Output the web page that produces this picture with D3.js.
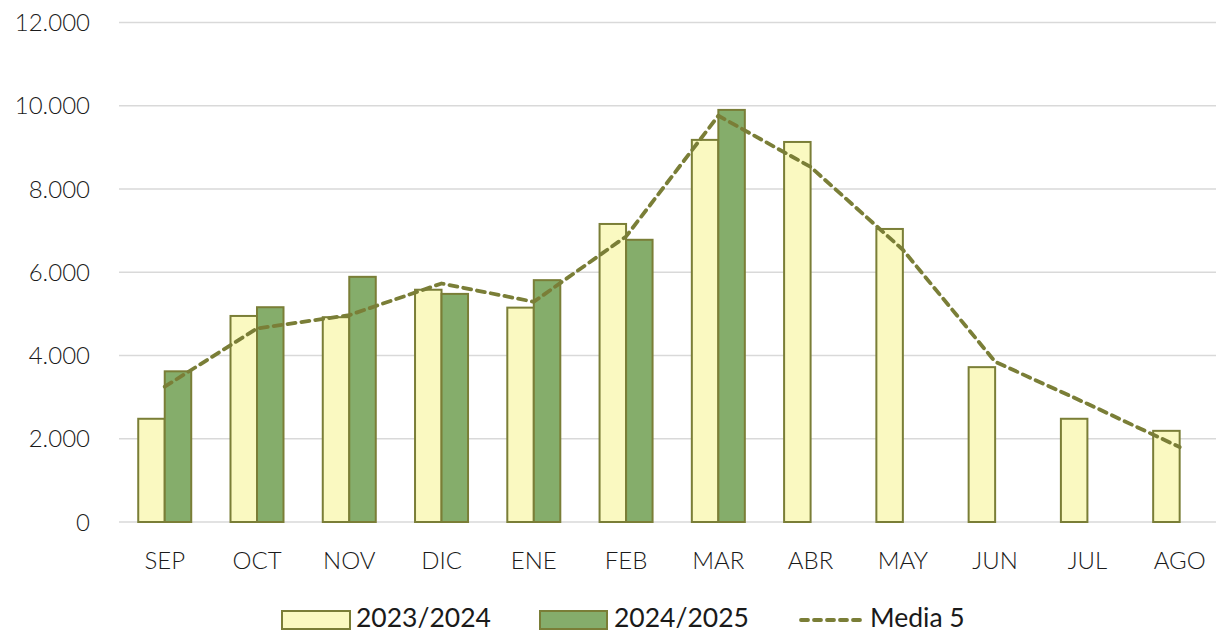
<!DOCTYPE html>
<html><head><meta charset="utf-8">
<script src="https://cdn.jsdelivr.net/npm/d3@7/dist/d3.min.js"></script>
<style>
html,body{margin:0;padding:0;background:#fff;}
svg text{font-family:Lato,"Open Sans",sans-serif;fill:#1a1a1a;}
</style></head>
<body><svg id="c" width="1216" height="634"></svg>
<script>
const categories = ["SEP","OCT","NOV","DIC","ENE","FEB","MAR","ABR","MAY","JUN","JUL","AGO"];
const s2023 = [2480,4950,4920,5580,5150,7160,9180,9130,7040,3720,2480,2190];
const s2024 = [3620,5160,5890,5480,5810,6780,9900,null,null,null,null,null];
const media5 = [3250,4650,4970,5730,5290,6860,9760,8530,6540,3850,2840,1800];
const yTicks = [0,2000,4000,6000,8000,10000,12000];
const seriesNames = ["2023/2024","2024/2025","Media 5"];

const svg = d3.select("#c");
const x = d3.scaleBand().domain(categories).range([118.6, 1225.8]).padding(0);
const y = d3.scaleLinear().domain([0,12000]).range([522, 22.5]);
const bw = 26.5;
const stroke = "#7A7E37";
const fillA = "#FAF9C1", fillB = "#85AD6B";
const fmt = d => d3.format(",")(d).replace(/,/g,".");

// gridlines
svg.append("g").selectAll("line").data(yTicks).join("line")
  .attr("x1",119).attr("x2",1216)
  .attr("y1",d=>y(d)).attr("y2",d=>y(d))
  .attr("stroke","#D9D9D9").attr("stroke-width",1.6);

// y labels
svg.append("g").selectAll("text").data(yTicks).join("text")
  .attr("x",90).attr("y",d=>y(d)+8.5).attr("text-anchor","end")
  .attr("font-size",24).attr("font-weight",300).text(fmt);

// x labels
svg.append("g").selectAll("text").data(categories).join("text")
  .attr("x",d=>x(d)+x.bandwidth()/2).attr("y",569).attr("text-anchor","middle")
  .attr("font-size",24).attr("font-weight",300).text(d=>d);

// bars
svg.append("g").selectAll("rect").data(categories).join("rect")
  .attr("x",d=>x(d)+x.bandwidth()/2-bw).attr("width",bw)
  .attr("y",(d,i)=>y(s2023[i])).attr("height",(d,i)=>y(0)-y(s2023[i]))
  .attr("fill",fillA).attr("stroke",stroke).attr("stroke-width",2);
svg.append("g").selectAll("rect").data(categories.filter((d,i)=>s2024[i]!=null)).join("rect")
  .attr("x",d=>x(d)+x.bandwidth()/2).attr("width",bw)
  .attr("y",d=>y(s2024[categories.indexOf(d)])).attr("height",d=>y(0)-y(s2024[categories.indexOf(d)]))
  .attr("fill",fillB).attr("stroke",stroke).attr("stroke-width",2);

// line
const line = d3.line().x((d,i)=>x(categories[i])+x.bandwidth()/2).y(d=>y(d));
svg.append("path").attr("d",line(media5)).attr("fill","none")
  .attr("stroke",stroke).attr("stroke-width",3.8)
  .attr("stroke-dasharray","8,6").attr("stroke-linecap","round").attr("stroke-linejoin","round");

// legend
const lg = svg.append("g");
lg.append("rect").attr("x",282).attr("y",611).attr("width",68).attr("height",18)
  .attr("fill",fillA).attr("stroke",stroke).attr("stroke-width",2);
lg.append("text").attr("x",356).attr("y",627).attr("font-size",26.5).text(seriesNames[0]);
lg.append("rect").attr("x",540).attr("y",611).attr("width",67).attr("height",18)
  .attr("fill",fillB).attr("stroke",stroke).attr("stroke-width",2);
lg.append("text").attr("x",614).attr("y",627).attr("font-size",26.5).text(seriesNames[1]);
lg.append("line").attr("x1",801).attr("x2",862).attr("y1",620).attr("y2",620)
  .attr("stroke",stroke).attr("stroke-width",3.8)
  .attr("stroke-dasharray","7,6").attr("stroke-linecap","round");
lg.append("text").attr("x",870).attr("y",627).attr("font-size",26.5).text(seriesNames[2]);
</script></body></html>
